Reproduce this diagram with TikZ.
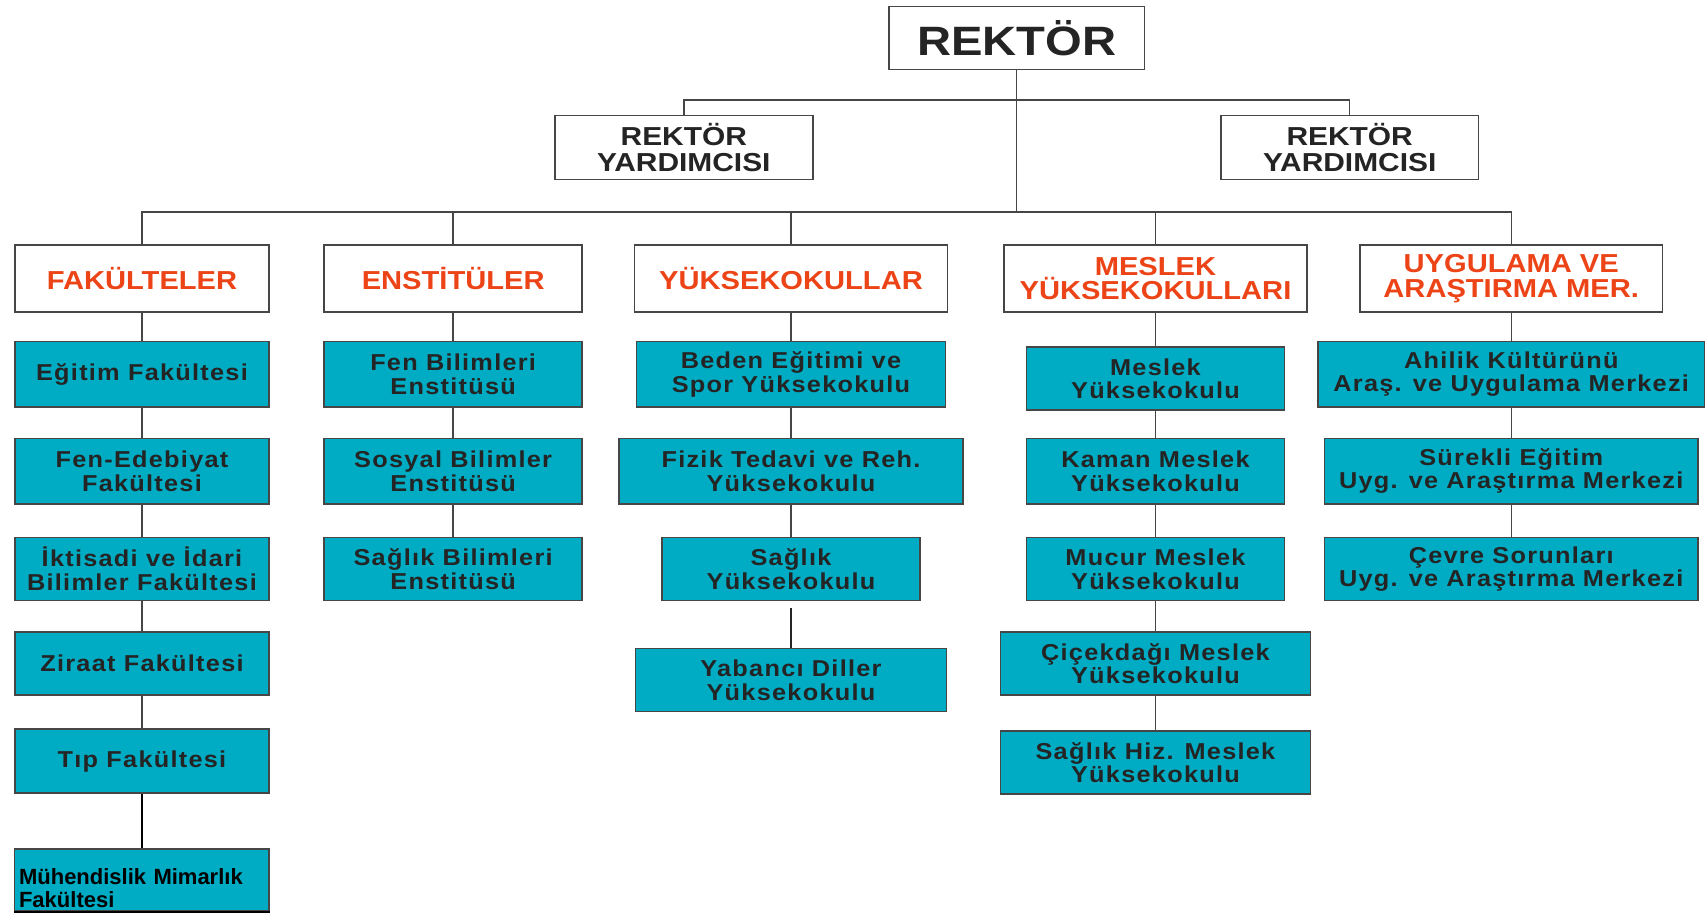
\documentclass[tikz,border=0pt]{standalone}
\usepackage{fontspec}
\setmainfont{Liberation Sans}
\newfontfamily\birimfont{Liberation Sans}[FakeStretch=1.1,LetterSpace=5.5]
\newfontfamily\basfont{Liberation Sans}[FakeStretch=1.12]
\newfontfamily\rekfont{Liberation Sans}[FakeStretch=1.15]
\definecolor{turkuaz}{RGB}{0,172,196}
\definecolor{turuncu}{RGB}{236,68,22}
\definecolor{koyu}{RGB}{36,36,36}
\definecolor{cizgi}{RGB}{70,70,70}
\newcommand{\px}{0.544pt}
\tikzset{
  kutu/.style 2 args={draw=cizgi,line width=0.8pt,minimum width=#1*\px,minimum height=#2*\px,inner sep=0pt,align=center},
  birim/.style={fill=turkuaz,text=koyu,font=\birimfont\bfseries\fontsize{11.5}{11.8}\selectfont},
  baslik/.style={fill=white,text=turuncu,font=\basfont\bfseries\fontsize{13}{12.4}\selectfont},
  yard/.style={fill=white,text=koyu,font=\rekfont\bfseries\fontsize{13}{13}\selectfont},
  bag/.style={draw=cizgi,line width=0.7pt}
}

\begin{document}
\begin{tikzpicture}[x=\px,y=-\px]
  \useasboundingbox (0,0) rectangle (1568,839);
  % ust kademe
  \node[kutu={235}{58},yard,font=\rekfont\bfseries\fontsize{20.5}{22}\selectfont] (rektor) at (934.5,35) {REKTÖR};
  \node[kutu={237}{59},yard] (yard1) at (628.5,135.5) {REKTÖR\\YARDIMCISI};
  \node[kutu={237}{59},yard] (yard2) at (1240.5,135.5) {REKTÖR\\YARDIMCISI};
  \coordinate (ust) at (934.5,92);
  \coordinate (alt) at (934.5,195);
  % basliklar
  \node[kutu={233}{62},baslik] (fak) at (130.5,256) {FAKÜLTELER};
  \node[kutu={237}{62},baslik] (ens) at (416.5,256) {ENSTİTÜLER};
  \node[kutu={288}{62},baslik] (yuk) at (727,256) {YÜKSEKOKULLAR};
  \node[kutu={278}{62},baslik] (mes) at (1062,256) {MESLEK\\YÜKSEKOKULLARI};
  \node[kutu={278}{62},baslik] (uyg) at (1389,256) {UYGULAMA VE\\ARAŞTIRMA MER.};
  % fakulteler
  \node[kutu={233}{60},birim] (egitim) at (130.5,344) {Eğitim Fakültesi};
  \node[kutu={233}{60},birim] (fened) at (130.5,433) {Fen-Edebiyat\\Fakültesi};
  \node[kutu={233}{58},birim] (iktisat) at (130.5,523) {İktisadi ve İdari\\Bilimler Fakültesi};
  \node[kutu={233}{58},birim] (ziraat) at (130.5,610) {Ziraat Fakültesi};
  \node[kutu={233}{59},birim] (tip) at (130.5,699.5) {Tıp Fakültesi};
  \node[kutu={234}{57},fill=turkuaz,align=left,text width=226*\px,inner xsep=4*\px,
        font=\bfseries\fontsize{11}{11.7}\selectfont] (muh) at (130.5,809)
        {\rule{0pt}{16pt}Mühendislik Mimarlık\\Fakültesi};
  % enstituler
  \node[kutu={237}{60},birim] (fenbil) at (416.5,344) {Fen Bilimleri\\Enstitüsü};
  \node[kutu={237}{60},birim] (sosyal) at (416.5,433) {Sosyal Bilimler\\Enstitüsü};
  \node[kutu={237}{58},birim] (saglikens) at (416.5,523) {Sağlık Bilimleri\\Enstitüsü};
  % yuksekokullar
  \node[kutu={284}{60},birim] (beden) at (727,344) {Beden Eğitimi ve\\Spor Yüksekokulu};
  \node[kutu={316}{60},birim] (fizik) at (727,433) {Fizik Tedavi ve Reh.\\Yüksekokulu};
  \node[kutu={237}{58},birim] (saglikyo) at (727,523) {Sağlık\\Yüksekokulu};
  \node[kutu={286}{58},birim] (yabanci) at (727,625) {Yabancı Diller\\Yüksekokulu};
  % meslek yuksekokullari
  \node[kutu={237}{58},birim] (meslekyo) at (1062,348) {Meslek\\Yüksekokulu};
  \node[kutu={237}{60},birim] (kaman) at (1062,433) {Kaman Meslek\\Yüksekokulu};
  \node[kutu={237}{58},birim] (mucur) at (1062,523) {Mucur Meslek\\Yüksekokulu};
  \node[kutu={285}{58},birim] (cicek) at (1062,610) {Çiçekdağı Meslek\\Yüksekokulu};
  \node[kutu={285}{58},birim] (saglikhiz) at (1062,701) {Sağlık Hiz. Meslek\\Yüksekokulu};
  % merkezler
  \node[kutu={355}{60},birim] (ahilik) at (1389,344) {Ahilik Kültürünü\\Araş. ve Uygulama Merkezi};
  \node[kutu={343}{60},birim] (surekli) at (1389,433) {Sürekli Eğitim\\Uyg. ve Araştırma Merkezi};
  \node[kutu={343}{58},birim] (cevre) at (1389,523) {Çevre Sorunları\\Uyg. ve Araştırma Merkezi};
  % baglantilar
  \draw[bag] (rektor) -- (alt);
  \draw[bag] (yard1.north) |- (ust) -| (yard2.north);
  \draw[bag] (fak.north) |- (alt) -| (uyg.north);
  \foreach \n in {ens,yuk,mes}
    \draw[bag] (\n.north) -- (\n.north |- alt);
  \draw[bag] (fak) -- (egitim) -- (fened) -- (iktisat) -- (ziraat) -- (tip);
  \draw[black,line width=1.3pt] (tip) -- (muh);
  \draw[black,line width=1.4pt] (muh.south west) -- (muh.south east);
  \draw[bag] (ens) -- (fenbil) -- (sosyal) -- (saglikens);
  \draw[bag] (yuk) -- (beden) -- (fizik) -- (saglikyo);
  \draw[bag,draw=koyu] ([yshift=-6*\px]saglikyo.south) -- (yabanci);
  \draw[bag] (mes) -- (meslekyo) -- (kaman) -- (mucur) -- (cicek) -- (saglikhiz);
  \draw[bag] (uyg) -- (ahilik) -- (surekli) -- (cevre);
\end{tikzpicture}
\end{document}
